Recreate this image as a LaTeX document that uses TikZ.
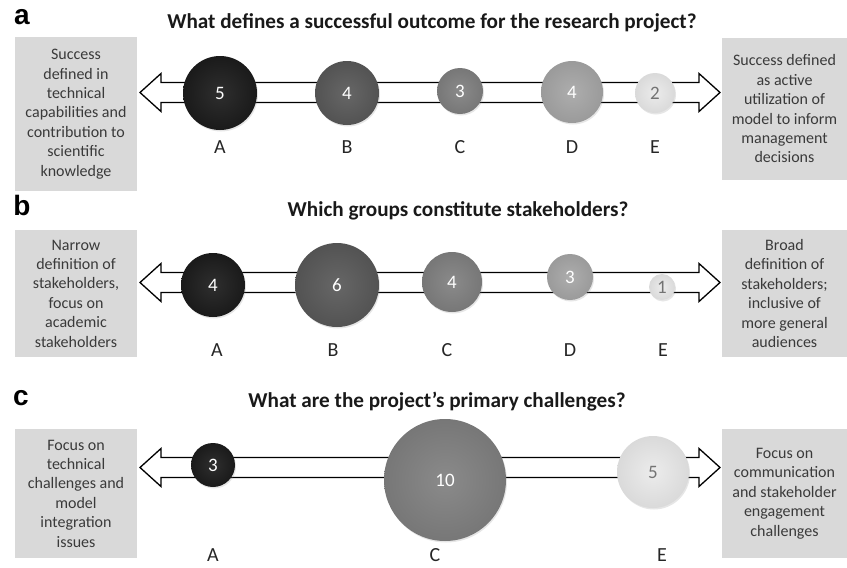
\documentclass[tikz,border=0pt]{standalone}
\usepackage{fontspec}
\setmainfont{Carlito}
\newfontfamily\panelfont{Liberation Sans}
\usetikzlibrary{shadows}

\definecolor{boxgray}{HTML}{D9D9D9}
\definecolor{boxtext}{HTML}{3A3A3A}
\definecolor{tonA}{HTML}{1C1C1C}
\definecolor{tonB}{HTML}{595959}
\definecolor{tonC}{HTML}{808080}
\definecolor{tonD}{HTML}{A6A6A6}
\definecolor{tonE}{HTML}{EAEAEA}

\tikzset{
  sidebox/.style={fill=boxgray, text=boxtext, align=center, inner sep=0pt,
    font=\fontsize{16}{19.4}\selectfont},
  bubble/.style={circle, inner sep=0pt, shading=radial,
    inner color=#1!92!white, outer color=#1!93!black,
    drop shadow={opacity=0.2, shadow xshift=1pt, shadow yshift=-1.5pt},
    text=white, font=\fontsize{19}{22}\selectfont},
  lightnum/.style={text=black!55, font=\fontsize{19}{22}\selectfont},
  letter/.style={font=\fontsize{20}{22}\selectfont, text=black!85},
  question/.style={font=\bfseries\fontsize{21.2}{24}\selectfont, text=black!90},
  panel/.style={font=\panelfont\bfseries\fontsize{28}{30}\selectfont},
  barrow/.style={draw=black, fill=white, line width=1.3pt, line join=miter}
}

\begin{document}
\begin{tikzpicture}[x=1pt,y=-1pt]
\useasboundingbox (0,0) rectangle (847,568);

\node [panel] (pa) at (22,17) {a};
\node [panel] (pb) at (22,205) {b};
\node [panel] (pc) at (21,398) {c};

\node [question] (qa) at (432,23) {What defines a successful outcome for the research project?};
\node [question] (qb) at (458,211) {Which groups constitute stakeholders?};
\node [question] (qc) at (437,402) {What are the project’s primary challenges?};

\node [sidebox, minimum width=122pt, minimum height=154pt] (la) at (76,114)
  {Success\\defined in\\technical\\capabilities and\\contribution to\\scientific\\knowledge};
\node [sidebox, minimum width=125pt, minimum height=142pt] (ra) at (784.5,109)
  {Success defined\\as active\\utilization of\\model to inform\\management\\decisions};
\node [sidebox, minimum width=122pt, minimum height=127pt] (lb) at (76,293.5)
  {Narrow\\definition of\\stakeholders,\\focus on\\academic\\stakeholders};
\node [sidebox, minimum width=125pt, minimum height=127pt] (rb) at (784.5,293.5)
  {Broad\\definition of\\stakeholders;\\inclusive of\\more general\\audiences};
\node [sidebox, minimum width=122pt, minimum height=129pt] (lc) at (76,493.5)
  {Focus on\\technical\\challenges and\\model\\integration\\issues};
\node [sidebox, minimum width=125pt, minimum height=129pt] (rc) at (784.5,493.5)
  {Focus on\\communication\\and stakeholder\\engagement\\challenges};

\foreach \ay in {92.5,282.5,467.5}
  \draw [barrow] (140,\ay) -- (161,\ay-19) -- (161,\ay-10) -- (699,\ay-10) -- (699,\ay-19)
    -- (720,\ay) -- (699,\ay+19) -- (699,\ay+10) -- (161,\ay+10) -- (161,\ay+19) -- cycle;

\foreach \g/\x/\y/\r/\n/\lx in {A/220/93/37/5/220, B/347/93/32/4/347, C/460/91/23/3/460, D/572/92/31/4/572, E/655/93/20/{}/655}
{
  \node [bubble=ton\g, minimum size=2*\r] (a\g) at (\x,\y) {\n};
  \node [letter] (ta\g) at (\lx,147) {\g};
}
\node [lightnum] (na) at (aE) {2};

\foreach \g/\x/\y/\r/\n/\lx in {A/213/285/32/4/217, B/337/285/42/6/333, C/452/282/30/4/447, D/570/277/23/3/570, E/662/287/13/{}/663}
{
  \node [bubble=ton\g, minimum size=2*\r] (b\g) at (\x,\y) {\n};
  \node [letter] (tb\g) at (\lx,350) {\g};
}
\node [lightnum] (nb) at (bE) {1};

\foreach \g/\x/\y/\r/\n/\lx in {A/213/465/22/3/213, C/445/480/61/10/435, E/653/472/36/{}/662}
{
  \node [bubble=ton\g, minimum size=2*\r] (c\g) at (\x,\y) {\n};
  \node [letter] (tc\g) at (\lx,555) {\g};
}
\node [lightnum] (nc) at (cE) {5};
\end{tikzpicture}
\end{document}
